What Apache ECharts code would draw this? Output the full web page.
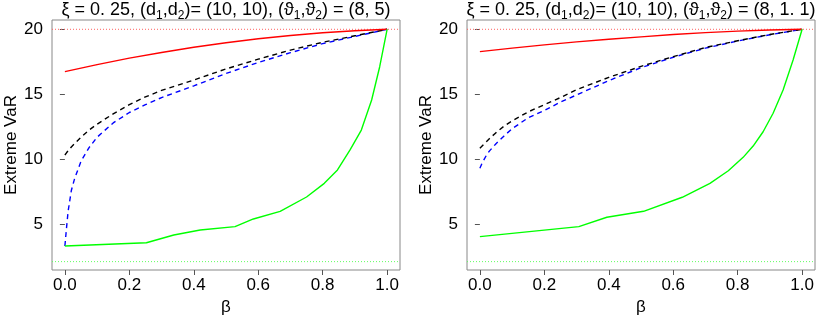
<!DOCTYPE html>
<html>
<head>
<meta charset="utf-8">
<script src="https://cdn.jsdelivr.net/npm/echarts@6/dist/echarts.min.js"></script>
<style>
  html, body { margin: 0; padding: 0; background: #fff; }
  #main { width: 830px; height: 332px; }
</style>
</head>
<body>
<div id="main"></div>
<script>
// beta grids
var beta = [0, 0.1, 0.2, 0.3, 0.4, 0.5, 0.6, 0.7, 0.8, 0.9, 1];
var betaFine = [0, 0.005, 0.01, 0.02, 0.03, 0.05, 0.075, 0.1, 0.15, 0.2, 0.25, 0.3, 0.4, 0.5, 0.6, 0.7, 0.8, 0.9, 1];

// left panel (8, 5)
var redL = [16.74, 17.28, 17.78, 18.22, 18.62, 18.97, 19.27, 19.52, 19.73, 19.89, 20];
var blackL = [10.33, 10.5, 10.65, 10.95, 11.2, 11.7, 12.25, 12.7, 13.5, 14.2, 14.8, 15.3, 16.1, 16.95, 17.7, 18.4, 19.0, 19.5, 20];
var blueL = [3.33, 4.7, 6.0, 7.6, 8.5, 9.85, 10.9, 11.7, 12.8, 13.6, 14.2, 14.75, 15.65, 16.6, 17.45, 18.2, 18.9, 19.45, 20];
var greenXL = [0, 0.253, 0.338, 0.42, 0.528, 0.585, 0.668, 0.75, 0.805, 0.846, 0.885, 0.92, 0.952, 0.977, 1];
var greenL = [3.33, 3.58, 4.18, 4.56, 4.82, 5.41, 6.0, 7.1, 8.15, 9.18, 10.72, 12.25, 14.56, 17.12, 20];

// right panel (8, 1.1)
var redR = [18.28, 18.55, 18.8, 19.03, 19.23, 19.42, 19.6, 19.74, 19.86, 19.95, 20];
var blackR = [10.85, 10.97, 11.1, 11.35, 11.6, 12.05, 12.55, 12.95, 13.65, 14.2, 14.75, 15.35, 16.3, 17.15, 17.9, 18.6, 19.12, 19.6, 20];
var blueR = [9.31, 9.6, 9.85, 10.3, 10.65, 11.2, 11.8, 12.35, 13.2, 13.75, 14.4, 14.95, 16.05, 17.05, 17.85, 18.55, 19.1, 19.58, 20];
var greenXR = [0, 0.307, 0.394, 0.508, 0.628, 0.714, 0.771, 0.817, 0.848, 0.879, 0.91, 0.941, 0.972, 1];
var greenR = [4.05, 4.82, 5.54, 6.0, 7.08, 8.15, 9.12, 10.15, 11.02, 12.12, 13.54, 15.33, 17.64, 20];

// reference levels (dotted), drawn across the full x range
var upperLevel = 20;
var lowerLevel = 2.13;
var xRange = [-0.04, 1.04];

var xTicks = [0, 0.2, 0.4, 0.6, 0.8, 1];
var yTicks = [5, 10, 15, 20];

var FONT = 'Liberation Sans';

function pairs(xs, ys) {
    var out = [];
    for (var i = 0; i < xs.length; i++) out.push([xs[i], ys[i]]);
    return out;
}

function makeTitle(last, cx) {
    return {
        text: '{t|ξ = 0. 25, (d}{s|1}{t|,d}{s|2}{t|)= (10, 10), (ϑ}{s|1}{t|,ϑ}{s|2}{t|) = (8, ' + last + ')}',
        left: cx,
        top: -1,
        padding: 0,
        textAlign: 'center',
        textStyle: {
            fontWeight: 'normal',
            rich: {
                t: { fontFamily: FONT, fontSize: 18, fontWeight: 'normal', color: '#000', lineHeight: 20, verticalAlign: 'bottom' },
                s: { fontFamily: FONT, fontSize: 12, fontWeight: 'normal', color: '#000', lineHeight: 14, verticalAlign: 'bottom', padding: [0, 0, -3, 0] }
            }
        }
    };
}

function makeX(idx) {
    return {
        type: 'value', gridIndex: idx, min: xRange[0], max: xRange[1],
        name: 'β', nameLocation: 'middle', nameGap: 25,
        nameTextStyle: { fontFamily: FONT, fontSize: 17, color: '#000' },
        axisLine: { show: false },
        splitLine: { show: false },
        axisTick: { show: true, length: 5, customValues: xTicks, lineStyle: { color: '#555' } },
        axisLabel: {
            customValues: xTicks, margin: 7, fontFamily: FONT, fontSize: 17, color: '#000',
            formatter: function (v) { return v.toFixed(1); }
        }
    };
}

function makeY(idx) {
    return {
        type: 'value', gridIndex: idx, min: 1.485, max: 20.715,
        name: 'Extreme VaR', nameLocation: 'middle', nameGap: 32, nameRotate: 90,
        nameTextStyle: { fontFamily: FONT, fontSize: 17, color: '#000' },
        axisLine: { show: false },
        splitLine: { show: false },
        axisTick: { show: true, length: 5, customValues: yTicks, lineStyle: { color: '#555' } },
        axisLabel: { customValues: yTicks, margin: 9, fontFamily: FONT, fontSize: 17, color: '#000' }
    };
}

function line(idx, data, color, dash, width) {
    return {
        type: 'line', xAxisIndex: idx, yAxisIndex: idx, data: data,
        showSymbol: false, symbol: 'none', animation: false, silent: true,
        color: color,
        lineStyle: { color: color, width: width || 1.4, type: dash || 'solid' }
    };
}

function refLine(idx, level, color) {
    return line(idx, pairs(xRange, [level, level]), color, [1, 2], 1);
}

var chart = echarts.init(document.getElementById('main'), null, { renderer: 'canvas' });

var option = {
    backgroundColor: '#fff',
    animation: false,
    title: [makeTitle('5', 226), makeTitle('1. 1', 641)],
    grid: [
        { left: 52, top: 20, width: 348, height: 250, show: true, borderColor: '#888', borderWidth: 1, backgroundColor: 'transparent' },
        { left: 467, top: 20, width: 348, height: 250, show: true, borderColor: '#888', borderWidth: 1, backgroundColor: 'transparent' }
    ],
    xAxis: [makeX(0), makeX(1)],
    yAxis: [makeY(0), makeY(1)],
    series: [
        refLine(0, upperLevel, '#ff6060'),
        refLine(0, lowerLevel, '#60ff60'),
        line(0, pairs(betaFine, blueL), '#0000ff', [5, 4]),
        line(0, pairs(betaFine, blackL), '#000000', [5, 4]),
        line(0, pairs(beta, redL), '#ff0000'),
        line(0, pairs(greenXL, greenL), '#00ff00'),
        refLine(1, upperLevel, '#ff6060'),
        refLine(1, lowerLevel, '#60ff60'),
        line(1, pairs(betaFine, blueR), '#0000ff', [5, 4]),
        line(1, pairs(betaFine, blackR), '#000000', [5, 4]),
        line(1, pairs(beta, redR), '#ff0000'),
        line(1, pairs(greenXR, greenR), '#00ff00')
    ]
};

chart.setOption(option);
</script>
</body>
</html>
